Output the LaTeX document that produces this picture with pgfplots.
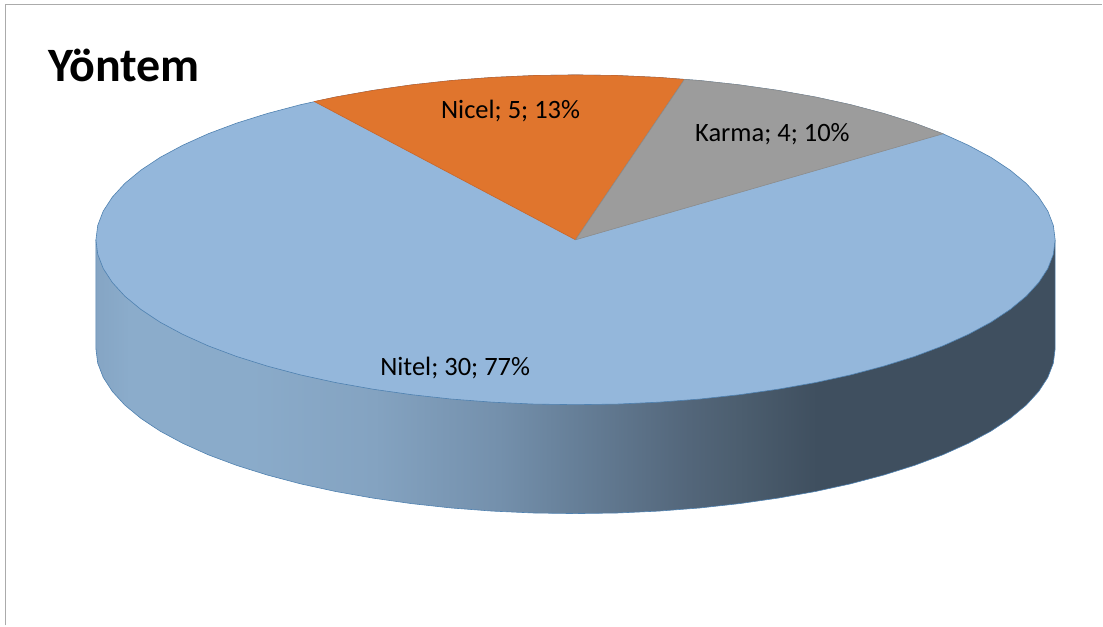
\documentclass[border=0pt]{standalone}
\usepackage{fontspec}
\setmainfont{Carlito}
\usepackage{pgfplots}
\pgfplotsset{compat=1.18}
\definecolor{niteltop}{HTML}{94B7DB}
\definecolor{nitelline}{HTML}{4F81B0}
\definecolor{nicelfill}{HTML}{E0752D}
\definecolor{nicelline}{HTML}{C8662B}
\definecolor{karmafill}{HTML}{9C9C9C}
\definecolor{karmaline}{HTML}{8C8C8C}
\definecolor{framegray}{HTML}{ABABAB}
\definecolor{s0}{HTML}{85A5C4}
\definecolor{s1}{HTML}{8BACCB}
\definecolor{s2}{HTML}{8AABCA}
\definecolor{s3}{HTML}{84A3C1}
\definecolor{s4}{HTML}{7490AC}
\definecolor{s5}{HTML}{667F98}
\definecolor{s6}{HTML}{53667A}
\definecolor{s7}{HTML}{4C5E6F}
\definecolor{s8}{HTML}{3F4F5F}
\pgfdeclarehorizontalshading{sidewall}{100bp}{
  color(0bp)=(s0); color(25bp)=(s0); color(26.8bp)=(s1); color(33bp)=(s2);
  color(39.5bp)=(s3); color(46bp)=(s4); color(50bp)=(s5);
  color(55.9bp)=(s6); color(58.5bp)=(s7); color(62.6bp)=(s8); color(100bp)=(s8)}
\begin{document}
\begin{tikzpicture}
\begin{axis}[
  scale only axis, width=1103pt, height=626pt,
  xmin=0, xmax=1103, ymin=0, ymax=626, y dir=reverse,
  hide axis, clip=false, no marks
]
  % hide axis drops the box from the bounding box, so keep the full page size
  \addplot[draw=none] coordinates {(0,0) (1103,626)};

  % frame, only top and left are visible
  \addplot[framegray, line width=1.8pt] coordinates {(5.5,626) (5.5,4.5) (1103,4.5)};

  % side wall
  \addplot[shading=sidewall, draw=nitelline, line width=0.6pt] coordinates {
    (96,240) (96,349) (97.8,363.4) (103.3,377.7) (112.4,391.7) (124.9,405.4) (141,418.7)
    (160.3,431.5) (182.8,443.6) (208.3,455.1) (236.6,465.7) (267.5,475.4) (300.7,484.2)
    (336,491.9) (373.2,498.5) (411.8,504) (451.8,508.4) (492.7,511.5) (534.1,513.4)
    (576,514) (617.9,513.4) (659.3,511.5) (700.2,508.4) (740.2,504) (778.8,498.5)
    (816,491.9) (851.3,484.2) (884.5,475.4) (915.4,465.7) (943.7,455.1) (969.2,443.6)
    (991.7,431.5) (1011,418.7) (1027.1,405.4) (1039.6,391.7) (1048.7,377.7) (1054.2,363.4)
    (1056,349) (1056,240)
  };

  % Nitel, top face
  \addplot[fill=niteltop, draw=nitelline, line width=0.6pt] coordinates {
    (1056,240) (1054.2,225.6) (1048.7,211.3) (1039.6,197.3) (1027.1,183.6) (1011,170.3)
    (991.7,157.5) (969.2,145.4) (943.7,133.9) (915.4,123.3) (884.5,113.6) (851.3,104.8)
    (816,97.1) (778.8,90.5) (740.2,85) (700.2,80.6) (659.3,77.5) (617.9,75.6) (576,75)
    (534.1,75.6) (492.7,77.5) (451.8,80.6) (411.8,85) (373.2,90.5) (336,97.1) (300.7,104.8)
    (267.5,113.6) (236.6,123.3) (208.3,133.9) (182.8,145.4) (160.3,157.5) (141,170.3)
    (124.9,183.6) (112.4,197.3) (103.3,211.3) (97.8,225.6) (96,240) (97.8,254.4)
    (103.3,268.7) (112.4,282.7) (124.9,296.4) (141,309.7) (160.3,322.5) (182.8,334.6)
    (208.3,346.1) (236.6,356.7) (267.5,366.4) (300.7,375.2) (336,382.9) (373.2,389.5)
    (411.8,395) (451.8,399.4) (492.7,402.5) (534.1,404.4) (576,405) (617.9,404.4)
    (659.3,402.5) (700.2,399.4) (740.2,395) (778.8,389.5) (816,382.9) (851.3,375.2)
    (884.5,366.4) (915.4,356.7) (943.7,346.1) (969.2,334.6) (991.7,322.5) (1011,309.7)
    (1027.1,296.4) (1039.6,282.7) (1048.7,268.7) (1054.2,254.4) (1056,240)
  };

  % Nicel
  \addplot[fill=nicelfill, draw=nicelline, line width=0.6pt] coordinates {
    (576,240) (314.6,101.6) (336,97.1) (373.2,90.5) (411.8,85) (451.8,80.6) (492.7,77.5)
    (534.1,75.6) (576,75) (617.9,75.6) (659.3,77.5) (685,79.5) (576,240)
  };

  % Karma
  \addplot[fill=karmafill, draw=karmaline, line width=0.6pt] coordinates {
    (576,240) (685,79.5) (700.2,80.6) (740.2,85) (778.8,90.5) (816,97.1) (851.3,104.8)
    (884.5,113.6) (915.4,123.3) (943.7,133.9) (576,240)
  };

  \node[font=\fontsize{48}{48}\selectfont\bfseries, text=black] at (axis cs:124,65.5) {Yöntem};
  \node[font=\fontsize{26.5}{26.5}\selectfont, text=black] at (axis cs:511,111) {Nicel; 5; 13\%};
  \node[font=\fontsize{26.5}{26.5}\selectfont, text=black] at (axis cs:773,134) {Karma; 4; 10\%};
  \node[font=\fontsize{26.5}{26.5}\selectfont, text=black] at (axis cs:455.5,368) {Nitel; 30; 77\%};
\end{axis}
\end{tikzpicture}
\end{document}
